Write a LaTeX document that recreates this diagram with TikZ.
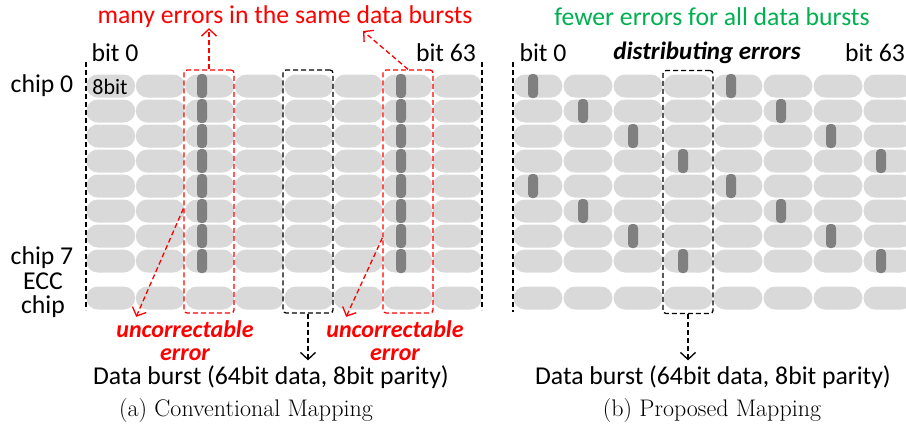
\documentclass[tikz,border=0pt]{standalone}
\usepackage{fontspec}
\newfontfamily\calibri{Carlito}
\usepackage{tikz}
\usetikzlibrary{shapes,arrows,arrows.meta}
\usetikzlibrary{calc,positioning}
\definecolor{errred}{RGB}{255,0,0}
\definecolor{okgreen}{RGB}{0,176,80}
\definecolor{cellgray}{RGB}{217,217,217}
\definecolor{bargray}{RGB}{128,128,128}
\tikzstyle{cell} = [rounded rectangle, fill=cellgray, minimum width=49pt,
    minimum height=23pt, inner sep=0pt]
\tikzstyle{errbar} = [rectangle, fill=bargray, rounded corners=4pt,
    minimum width=10pt, minimum height=24pt, inner sep=0pt]
\tikzstyle{burstbox} = [rectangle, draw, dash pattern=on 5pt off 3pt, rounded corners=3pt,
    line width=1.3pt, minimum width=50pt, minimum height=243pt, inner sep=0pt]
\tikzstyle{lbl} = [font=\calibri\fontsize{25.7}{24}\selectfont, inner sep=0pt, align=center]
\tikzstyle{uncor} = [font=\calibri\bfseries\itshape\fontsize{24}{23}\selectfont,
    text=errred, inner sep=0pt, align=center]
\tikzstyle{caption} = [font=\fontsize{24}{26}\selectfont, inner sep=0pt]
\tikzstyle{line} = [draw, dash pattern=on 5pt off 3pt, line width=1.3pt,
    -{Straight Barb[length=7pt,width=15pt]}]
\tikzstyle{border} = [draw, dash pattern=on 5pt off 3pt, line width=1.3pt]

\begin{document}
\begin{tikzpicture}[x=1pt,y=-1pt]
    \useasboundingbox (0,0) rectangle (906,431);
    % (a) conventional mapping
    \foreach \r in {0,...,7}
      \foreach \c in {0,...,7}
        \node [cell] (a-\r-\c) at (110.75+49.5*\c, 86+25*\r) {};
    \foreach \c in {0,...,7}
      \node [cell] (a-ecc-\c) at (110.75+49.5*\c, 298) {};
    \foreach \r in {0,...,7} {
      \node [errbar] (a-err-\r) at (202, 86+25*\r) {};
      \node [errbar] (a-errb-\r) at (401, 86+25*\r) {};
    }
    \node [lbl, font=\calibri\fontsize{22}{24}\selectfont] (a-8bit) at (110,87) {8bit};
    \draw [border] (86,62) -- (86,310);
    \draw [border] (482,62) -- (482,310);
    \node [burstbox, errred] (redA) at (209,191.5) {};
    \node [burstbox] (blackA) at (308,191.5) {};
    \node [burstbox, errred] (redB) at (408,191.5) {};

    \node [lbl, text=errred] (manyerr) at (285,17) {many errors in the same data bursts};
    \node [lbl] (a-bit0) at (115,53) {bit 0};
    \node [lbl] (a-bit63) at (446,53) {bit 63};
    \node [lbl] (chip0) at (42,86) {chip 0};
    \node [lbl] (chip7) at (42,258) {chip 7};
    \node [lbl] (eccchip) at (43,295) {ECC\\chip};
    \node [uncor] (uncA) at (185,341) {uncorrectable\\error};
    \node [uncor] (uncB) at (395,341) {uncorrectable\\error};
    \node [lbl] (dataA) at (271,377) {Data burst (64bit data, 8bit parity)};
    \node [caption] (capA) at (246,411) {(a) Conventional Mapping};

    % (b) proposed mapping
    \foreach \r in {0,...,7}
      \foreach \c in {0,...,7}
        \node [cell] (b-\r-\c) at (538+50*\c, 86+25*\r) {};
    \foreach \c in {0,...,7}
      \node [cell] (b-ecc-\c) at (538+50*\c, 298) {};
    \foreach \r in {0,...,7} {
      \pgfmathtruncatemacro{\c}{mod(\r,4)}
      \node [errbar] (b-err-\r) at (533+50*\c, 86+25*\r) {};
      \node [errbar] (b-errb-\r) at (731+50*\c, 86+25*\r) {};
    }
    \draw [border] (513,62) -- (513,312);
    \node [burstbox] (blackB) at (688,192) {};

    \node [lbl, text=okgreen] (fewerr) at (712,17) {fewer errors for all data bursts};
    \node [lbl] (b-bit0) at (543,53) {bit 0};
    \node [lbl, font=\calibri\bfseries\itshape\fontsize{25}{24}\selectfont] (distrib) at (707,53) {distributing errors};
    \node [lbl] (b-bit63) at (875,53) {bit 63};
    \node [lbl] (dataB) at (713,377) {Data burst (64bit data, 8bit parity)};
    \node [caption] (capB) at (712,411) {(b) Proposed Mapping};

    % Draw edges
    \coordinate (srcA) at ($(redA.north west)!0.57!(redA.south west)$);
    \coordinate (tipA) at ($(uncA.north west)+(20,-4)$);
    \coordinate (srcB) at ($(redB.north west)!0.69!(redB.south west)$);
    \coordinate (tipB) at ($(uncB.north west)+(20,-4)$);
    \coordinate (topB) at (363,31);
    \path [line, errred] (redA.north) -- (redA.north |- manyerr.south);
    \path [line, errred] (redB.north) -- (topB);
    \path [line, errred] (srcA) -- (tipA);
    \path [line, errred] (srcB) -- (tipB);
    \path [line] (blackA.south) -- ($(blackA.south |- dataA.north)+(0,-5)$);
    \path [line] (blackB.south) -- ($(blackB.south |- dataB.north)+(0,-5)$);
\end{tikzpicture}
\end{document}
